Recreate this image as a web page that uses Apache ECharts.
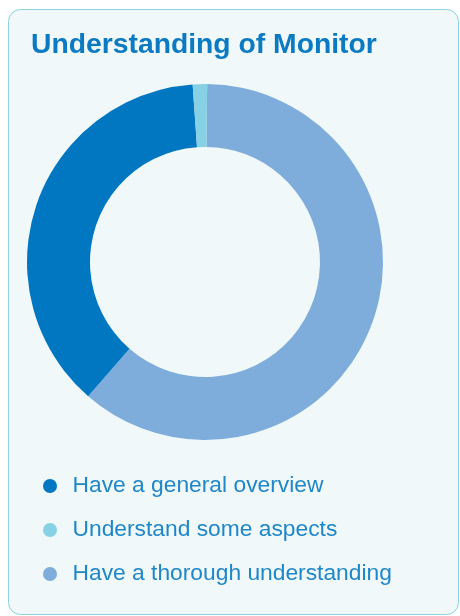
<!DOCTYPE html>
<html>
<head>
<meta charset="utf-8">
<script src="https://cdn.jsdelivr.net/npm/echarts@6/dist/echarts.min.js"></script>
<style>
html,body{margin:0;padding:0;background:#ffffff;}
#chart{width:460px;height:616px;}
</style>
</head>
<body>
<div id="chart"></div>
<script>
// Data (percent shares)
var legendLabels = ['Have a general overview', 'Understand some aspects', 'Have a thorough understanding'];
var sliceOrder = ['Have a thorough understanding', 'Have a general overview', 'Understand some aspects'];
var sliceValues = [61.2, 37.5, 1.3];
var colorMap = {
  'Have a general overview': '#0077c0',
  'Understand some aspects': '#86d1e3',
  'Have a thorough understanding': '#7eaddc'
};

var chart = echarts.init(document.getElementById('chart'), null, {renderer: 'canvas'});
var pieData = sliceOrder.map(function (n, i) {
  return {name: n, value: sliceValues[i], itemStyle: {color: colorMap[n]}};
});

chart.setOption({
  animation: false,
  backgroundColor: '#ffffff',
  graphic: [{
    type: 'rect',
    z: -10,
    silent: true,
    shape: {x: 8.5, y: 9.5, width: 450, height: 605, r: 12},
    style: {fill: '#f0f8fa', stroke: '#8dd2e2', lineWidth: 1}
  }],
  title: {
    text: 'Understanding of Monitor',
    left: 26,
    top: 26,
    textStyle: {
      fontFamily: 'Liberation Sans, Arial, sans-serif',
      fontSize: 28.3,
      fontWeight: 'bold',
      color: '#0a7ac2'
    }
  },
  legend: {
    orient: 'vertical',
    left: 38,
    top: 469,
    icon: 'circle',
    itemWidth: 35,
    itemHeight: 14,
    itemGap: 20,
    selectedMode: false,
    data: legendLabels,
    textStyle: {
      fontFamily: 'Liberation Sans, Arial, sans-serif',
      fontSize: 22.8,
      lineHeight: 24,
      color: '#1f87c8'
    }
  },
  series: [{
    type: 'pie',
    radius: [115, 178],
    center: [205, 262],
    startAngle: 89.3,
    clockwise: true,
    label: {show: false},
    labelLine: {show: false},
    emphasis: {disabled: true},
    data: pieData
  }]
});
</script>
</body>
</html>
